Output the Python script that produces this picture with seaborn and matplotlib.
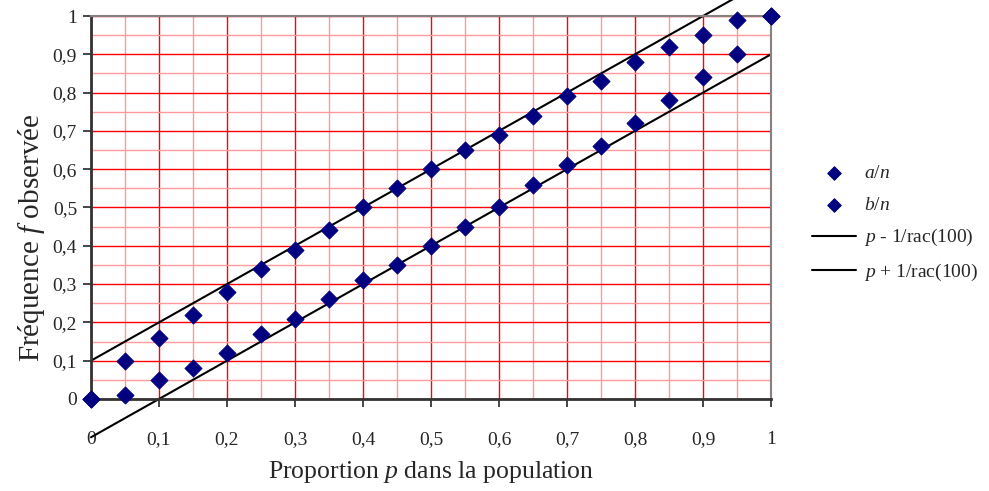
import numpy as np
import pandas as pd
import seaborn as sns
import matplotlib
matplotlib.use("Agg")
import matplotlib.pyplot as plt
from matplotlib.ticker import MultipleLocator, FuncFormatter

# data
p = [0, 0.05, 0.1, 0.15, 0.2, 0.25, 0.3, 0.35, 0.4, 0.45, 0.5,
     0.55, 0.6, 0.65, 0.7, 0.75, 0.8, 0.85, 0.9, 0.95, 1]
a_n = [0, 0.10, 0.16, 0.22, 0.28, 0.34, 0.39, 0.44, 0.50, 0.55, 0.60,
       0.65, 0.69, 0.74, 0.79, 0.83, 0.88, 0.92, 0.95, 0.99, 1]
b_n = [0, 0.01, 0.05, 0.08, 0.12, 0.17, 0.21, 0.26, 0.31, 0.35, 0.40,
       0.45, 0.50, 0.56, 0.61, 0.66, 0.72, 0.78, 0.84, 0.90, 1]
p_line = [0, 1]
lower = [-0.1, 0.9]   # p - 1/rac(100)
upper = [0.1, 1.1]    # p + 1/rac(100)

sns.set_style("white")
plt.rcParams['font.family'] = ['Liberation Serif', 'DejaVu Serif']
plt.rcParams['mathtext.fontset'] = 'custom'
plt.rcParams['mathtext.rm'] = 'Liberation Serif'
plt.rcParams['mathtext.it'] = 'Liberation Serif:italic'

df = pd.DataFrame({'p': p, 'a': a_n, 'b': b_n})

fig = plt.figure(figsize=(9.89, 4.91), dpi=100)
ax = fig.add_axes([0.092, 0.1874, 0.6876, 0.7800])

# grid
ax.xaxis.set_major_locator(MultipleLocator(0.1))
ax.yaxis.set_major_locator(MultipleLocator(0.1))
ax.xaxis.set_minor_locator(MultipleLocator(0.05))
ax.yaxis.set_minor_locator(MultipleLocator(0.05))
ax.grid(which='minor', color='#ff9a9a', lw=1.0)
ax.grid(which='major', color='#ff0000', lw=1.0)
ax.set_axisbelow(True)

navy = '#000080'
sns.scatterplot(data=df, x='p', y='a', ax=ax, marker='D', s=75, color=navy,
                edgecolor=navy, label='$a/n$', clip_on=False, zorder=5)
sns.scatterplot(data=df, x='p', y='b', ax=ax, marker='D', s=75, color=navy,
                edgecolor=navy, label='$b/n$', clip_on=False, zorder=5)
sns.lineplot(x=p_line, y=lower, ax=ax, color='black', lw=1.5,
             label='$p$ - 1/rac(100)')
sns.lineplot(x=p_line, y=upper, ax=ax, color='black', lw=1.5,
             label='$p$ + 1/rac(100)')
for ln in ax.lines:
    ln.set_clip_on(False)

ax.set_xlim(0, 1)
ax.set_ylim(0, 1)

fmt = FuncFormatter(lambda v, pos: ('%g' % round(v, 2)).replace('.', ','))
ax.xaxis.set_major_formatter(fmt)
ax.yaxis.set_major_formatter(fmt)
ax.tick_params(axis='x', which='major', direction='out', length=6, width=1.2,
               pad=17, labelsize=14, bottom=True)
ax.tick_params(axis='y', which='major', direction='out', length=6, width=1.2,
               pad=4, labelsize=14, left=True)
ax.tick_params(which='minor', length=0)

for s in ['left', 'bottom']:
    ax.spines[s].set_color('#333333')
    ax.spines[s].set_linewidth(2)
for s in ['top', 'right']:
    ax.spines[s].set_color('#888080')
    ax.spines[s].set_linewidth(1.5)

ax.set_xlabel('Proportion $p$ dans la population', fontsize=18.5, labelpad=8)
ax.set_ylabel('Fréquence $f$ observée', fontsize=21, labelpad=4)
ax.yaxis.label.set_y(0.42)

ax.legend(loc='upper left', bbox_to_anchor=(0.803, 0.70),
          bbox_transform=fig.transFigure, frameon=False, fontsize=14,
          handlelength=2.3, handletextpad=0.4, labelspacing=0.7,
          markerscale=0.8)

fig.savefig('out.png', dpi=100)
